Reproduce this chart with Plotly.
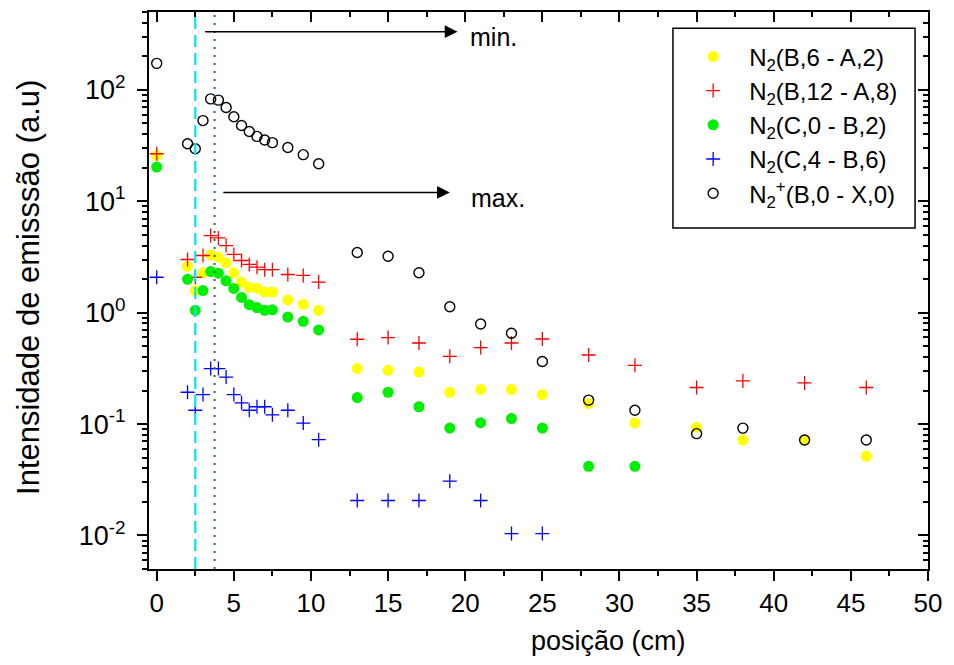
import math
import plotly.graph_objects as go

# ---------------- data ----------------
x_pos = [0, 2, 2.5, 3, 3.5, 4, 4.5, 5, 5.5, 6, 6.5, 7, 7.5, 8.5, 9.5, 10.5,
         13, 15, 17, 19, 21, 23, 25, 28, 31, 35, 38, 42, 46]

n2_B6_A2 = [25.8, 2.6, 1.58, 2.28, 3.3, 3.15, 2.8, 2.28, 1.88, 1.69, 1.66, 1.53, 1.53, 1.30, 1.19, 1.05,
            0.315, 0.304, 0.294, 0.193, 0.204, 0.204, 0.184, 0.153, 0.102, 0.0934, 0.0719, 0.0719, 0.0514]
n2_B12_A8 = [26.7, 3.0, 2.08, 3.26, 4.92, 4.69, 4.0, 3.33, 2.94, 2.71, 2.56, 2.43, 2.43, 2.2, 2.16, 1.88,
             0.577, 0.597, 0.534, 0.406, 0.486, 0.534, 0.58, 0.417, 0.337, 0.213, 0.244, 0.234, 0.213]
n2_C0_B2 = [20.3, 1.99, 1.05, 1.58, 2.34, 2.26, 1.93, 1.65, 1.37, 1.18, 1.11, 1.05, 1.06, 0.914, 0.836, 0.70,
            0.173, 0.193, 0.143, 0.092, 0.103, 0.112, 0.092, 0.0418, 0.0418]
n2_C4_B6 = [2.08, 0.193, 0.133, 0.184, 0.315, 0.315, 0.264, 0.184, 0.155, 0.133, 0.143, 0.143, 0.121, 0.133,
            0.102, 0.0724, 0.0206, 0.0206, 0.0206, 0.0307, 0.0206, 0.0104, 0.0104]
n2p_B0_X0 = [173, 32.8, 29.6, 53, 83, 80.9, 69.5, 57.3, 47.9, 42.3, 38.2, 35.5, 33.6, 30.4, 26.2, 21.7,
             3.47, 3.21, 2.28, 1.13, 0.79, 0.653, 0.364, 0.164, 0.133, 0.082, 0.092, 0.072, 0.072]

names = ["N<sub>2</sub>(B,6 - A,2)", "N<sub>2</sub>(B,12 - A,8)", "N<sub>2</sub>(C,0 - B,2)",
         "N<sub>2</sub>(C,4 - B,6)", "N<sub>2</sub><sup>+</sup>(B,0 - X,0)"]

y_tickvals = [0.01, 0.1, 1, 10, 100]
y_ticktext = ["10<sup>-2</sup>", "10<sup>-1</sup>", "10<sup>0</sup>", "10<sup>1</sup>", "10<sup>2</sup>"]
x_range = [-0.5, 50]
y_range = [0.005, 500]

x_title = "posição (cm)"
y_title = "Intensidade de emisssão (a.u)"

line_cyan_x = 2.5
line_green_x = 3.75
arrow_min = dict(x0=3.04, x1=19.5, y=333, label="min.", label_x=20.2, label_y=300)
arrow_max = dict(x0=4.22, x1=19.0, y=12.0, label="max.", label_x=20.25, label_y=10.6)

FONT = "Liberation Sans, Arial, sans-serif"

# ---------------- figure ----------------
fig = go.Figure()

series = [
    (n2_B6_A2, dict(symbol="circle", size=11, color="#FFFF00", line=dict(width=0))),
    (n2_B12_A8, dict(symbol="cross-thin-open", size=10, color="#FF0000", line=dict(width=1.3, color="#FF0000"))),
    (n2_C0_B2, dict(symbol="circle", size=11, color="#00EE00", line=dict(width=0))),
    (n2_C4_B6, dict(symbol="cross-thin-open", size=10, color="#0000FF", line=dict(width=1.3, color="#0000FF"))),
    (n2p_B0_X0, dict(symbol="circle-open", size=10, color="#000000", line=dict(width=1.4, color="#000000"))),
]
for (vals, mk), nm in zip(series, names):
    fig.add_trace(go.Scatter(x=x_pos[:len(vals)], y=vals, mode="markers", name=nm, marker=mk))

# dummy trace for mirrored (inward-tick) axes
fig.add_trace(go.Scatter(x=[None], y=[None], xaxis="x2", yaxis="y2", showlegend=False,
                         hoverinfo="skip", mode="markers"))

# vertical reference lines
fig.add_shape(type="line", xref="x", yref="paper", x0=line_cyan_x, x1=line_cyan_x, y0=0, y1=1,
              line=dict(color="#00E5EE", width=2.2, dash="12px,6px"))
fig.add_shape(type="line", xref="x", yref="paper", x0=line_green_x, x1=line_green_x, y0=0, y1=1,
              line=dict(color="#1E7B1E", width=2, dash="2px,6px"))

# legend frame (box drawn behind the legend entries)
fig.add_shape(type="rect", xref="paper", yref="paper", x0=0.6726, x1=0.9834, y0=0.612, y1=0.971,
              line=dict(color="black", width=1.5), fillcolor="white", layer="above")

# arrows with labels
for a in (arrow_min, arrow_max):
    fig.add_annotation(x=a["x1"], y=math.log10(a["y"]), ax=a["x0"], ay=math.log10(a["y"]),
                       xref="x", yref="y", axref="x", ayref="y", text="", showarrow=True,
                       arrowhead=2, arrowsize=1.7, arrowwidth=1.5, arrowcolor="black", standoff=0)
    fig.add_annotation(x=a["label_x"], y=math.log10(a["label_y"]), xref="x", yref="y",
                       text=a["label"], showarrow=False, xanchor="left", yanchor="middle",
                       font=dict(size=25, color="black", family=FONT))

# axis titles (placed as in the reference)
fig.add_annotation(text=x_title, xref="paper", yref="paper", x=0.59, y=-0.13,
                   xanchor="center", yanchor="middle", showarrow=False,
                   font=dict(size=27, family=FONT, color="black"))
fig.add_annotation(text=y_title, xref="paper", yref="paper", x=-0.155, y=0.505,
                   xanchor="center", yanchor="middle", showarrow=False, textangle=-90,
                   font=dict(size=31, family=FONT, color="black"))

minor_y = [m * 10 ** d for d in range(-3, 3) for m in range(2, 10)]

axis_common = dict(showline=True, linecolor="black", linewidth=2, showgrid=False, zeroline=False,
                   tickcolor="black", tickwidth=2, ticklen=10)

fig.update_layout(
    width=954, height=665,
    margin=dict(l=149, r=19, t=12, b=96),
    paper_bgcolor="white", plot_bgcolor="white",
    font=dict(family=FONT, size=24, color="black"),
    showlegend=True,
    legend=dict(x=0.678, y=0.96, xanchor="left", yanchor="top", bgcolor="rgba(0,0,0,0)",
                borderwidth=0, font=dict(size=24, family=FONT),
                itemwidth=62, tracegroupgap=0),
    xaxis=dict(range=x_range, dtick=5, tick0=0, ticks="outside",
               minor=dict(dtick=2.5, tick0=0, ticks="outside", ticklen=5, tickwidth=2, tickcolor="black"),
               tickfont=dict(size=26, family=FONT), **axis_common),
    yaxis=dict(type="log", range=[math.log10(y_range[0]), math.log10(y_range[1])],
               tickmode="array", tickvals=y_tickvals, ticktext=y_ticktext, ticks="outside",
               ticklabelstandoff=6,
               minor=dict(tickmode="array", tickvals=minor_y, ticks="outside", ticklen=5,
                          tickwidth=2, tickcolor="black"),
               tickfont=dict(size=27, family=FONT), **axis_common),
    xaxis2=dict(overlaying="x", side="top", anchor="y", range=x_range, dtick=5, tick0=0,
                ticks="inside", showticklabels=False,
                minor=dict(dtick=2.5, tick0=0, ticks="inside", ticklen=5, tickwidth=2, tickcolor="black"),
                **axis_common),
    yaxis2=dict(overlaying="y", side="right", anchor="x", type="log",
                range=[math.log10(y_range[0]), math.log10(y_range[1])],
                tickmode="array", tickvals=y_tickvals, ticks="inside", showticklabels=False,
                minor=dict(tickmode="array", tickvals=minor_y, ticks="inside", ticklen=5,
                           tickwidth=2, tickcolor="black"),
                **axis_common),
)

fig.write_html("out.html", config={"displayModeBar": False},
               post_script="document.body.style.margin='0';")
